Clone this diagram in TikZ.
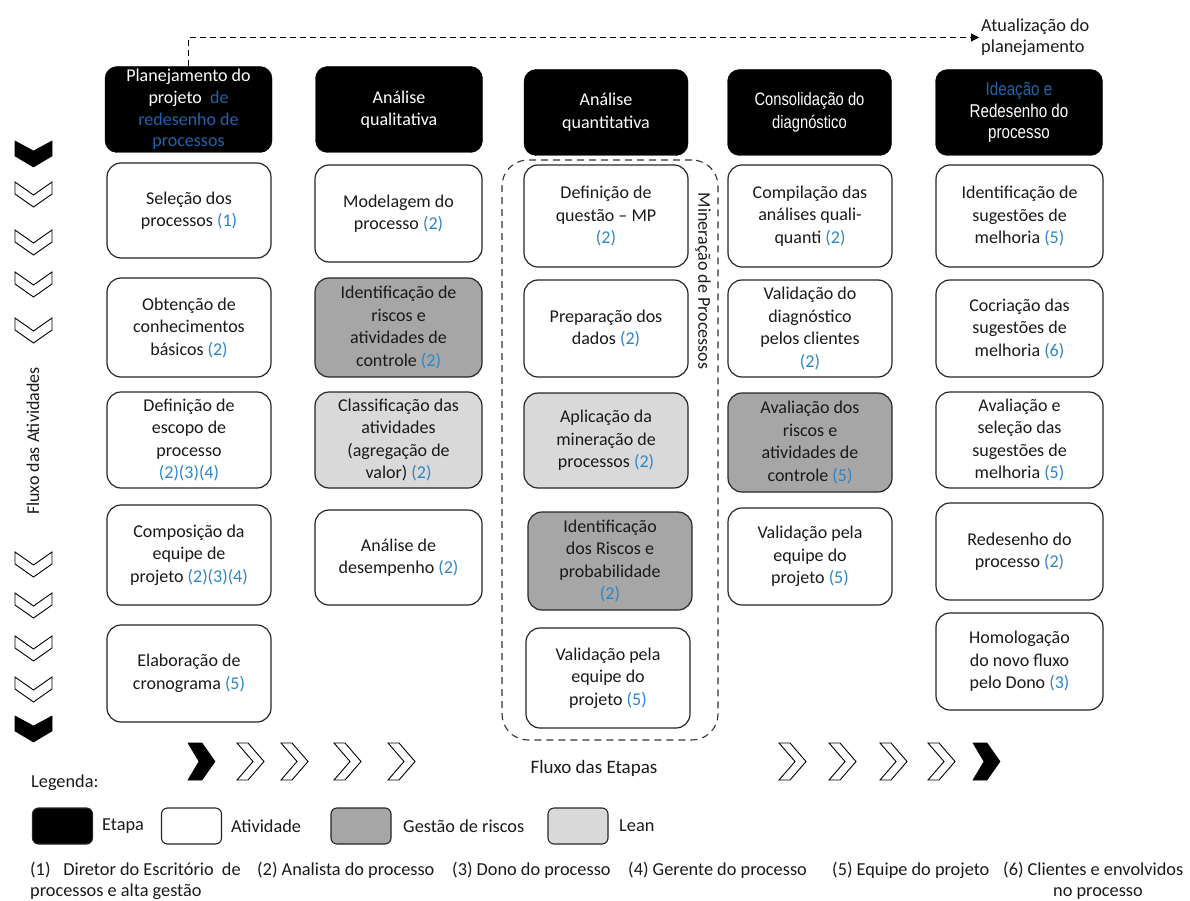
\documentclass[tikz,border=0pt]{standalone}
\usepackage{fontspec}
\setmainfont{Carlito}
\newfontfamily\narrowfont[FakeStretch=0.82]{Liberation Sans}
\usetikzlibrary{arrows.meta}
\definecolor{refblue}{HTML}{2E86C8}
\definecolor{hdrblue}{HTML}{1F64AA}
\definecolor{riskgray}{HTML}{A6A6A6}
\definecolor{leangray}{HTML}{D9D9D9}
\definecolor{txt}{HTML}{1A1A1A}
\newcommand{\rf}[1]{\textcolor{refblue}{(#1)}}
\newcommand{\hb}[1]{\textcolor{hdrblue}{#1}}

\begin{document}
\begin{tikzpicture}[x=1pt,y=-1pt,
  etapa/.style={rectangle, rounded corners=12pt, fill=black, draw=black, text=white,
    align=center, inner sep=1pt, font=\fontsize{18}{21.7}\selectfont},
  ativ/.style={rectangle, rounded corners=14pt, draw=black!85, line width=1.2pt, fill=white,
    text=txt, align=center, inner sep=1pt, font=\fontsize{18}{22.5}\selectfont},
  risco/.style={ativ, fill=riskgray},
  lean/.style={ativ, fill=leangray},
  w1/.style={minimum width=164pt}, w2/.style={minimum width=167pt},
  mpbox/.style={rectangle, draw=black!80, line width=1.1pt, dash pattern=on 7pt off 5pt,
    rounded corners=26pt},
  flowlabel/.style={font=\fontsize{18}{21}\selectfont, text=txt, inner sep=0pt},
  legtext/.style={font=\fontsize{18.3}{22}\selectfont, text=txt, anchor=west, inner sep=0pt},
  foot/.style={font=\fontsize{18.3}{22}\selectfont, text=txt, anchor=base west, inner sep=0pt},
  chevw/.style={draw=black, line width=0.9pt, fill=white, line join=miter},
  chevb/.style={fill=black, draw=black, line width=0.6pt},
  legbox/.style={rectangle, rounded corners=6pt, draw=black!85, line width=1.1pt,
    minimum width=60pt, minimum height=36pt},
]
\useasboundingbox (0,0) rectangle (1190,901);

% ---- stage headers ----
\node[etapa, w2, minimum height=86pt] (h1) at (188.5,109.5)
  {Planejamento do\\projeto\ \ \hb{de}\\\hb{redesenho de}\\\hb{processos}};
\node[etapa, w2, minimum height=86pt, font=\fontsize{18}{22}\selectfont] (h2) at (399,109.5) {Análise\\qualitativa};
\node[etapa, w1, minimum height=86pt, font=\fontsize{18}{23}\selectfont] (h3) at (606,112.5) {Análise\\quantitativa};
\node[etapa, w1, minimum height=86pt, font=\narrowfont\fontsize{18}{23}\selectfont] (h4)
  at (809.5,112.5) {Consolidação do\\diagnóstico};
\node[etapa, w2, minimum height=86pt, font=\narrowfont\fontsize{18.5}{21.5}\selectfont] (h5)
  at (1019,112.5) {\hb{Ideação e}\\Redesenho do\\processo};

% ---- feedback loop ----
\node[font=\fontsize{18.3}{21}\selectfont, text=txt, align=left, anchor=west, inner sep=2pt]
  (upd) at (979,37.5) {Atualização do\\planejamento};
\draw[line width=1.1pt, dash pattern=on 6pt off 4pt, -{Triangle[length=8pt,width=8pt]}]
  (h1.north) |- (upd.west);

% ---- column 1 ----
\node[ativ, w1, minimum height=95pt]  (a11) at (189,210.5) {Seleção dos\\processos \rf{1}};
\node[ativ, w1, minimum height=99pt]  (a12) at (189,327.5) {Obtenção de\\conhecimentos\\básicos \rf{2}};
\node[ativ, w1, minimum height=96pt]  (a13) at (189,440) {Definição de\\escopo de\\processo\\\rf{2}\rf{3}\rf{4}};
\node[ativ, w1, minimum height=100pt] (a14) at (189,555) {Composição da\\equipe de\\projeto \rf{2}\rf{3}\rf{4}};
\node[ativ, w1, minimum height=97pt]  (a15) at (189,673.5) {Elaboração de\\cronograma \rf{5}};

% ---- column 2 ----
\node[ativ, w2, minimum height=97pt]  (a21) at (398.5,213.5) {Modelagem do\\processo \rf{2}};
\node[risco, w2, minimum height=99pt] (a22) at (398.5,327.5) {Identificação de\\riscos e\\atividades de\\controle \rf{2}};
\node[lean, w2, minimum height=96pt]  (a23) at (398.5,440) {Classificação das\\atividades\\(agregação de\\valor) \rf{2}};
\node[ativ, w2, minimum height=95pt]  (a24) at (398.5,557.5) {Análise de\\desempenho \rf{2}};

% ---- column 3: process mining group ----
\node[mpbox, minimum width=216pt, minimum height=580pt] (mp) at (610,450) {};
\node[flowlabel, rotate=-90] (mplabel) at (703,281) {Mineração de Processos};
\node[ativ, w1, minimum height=102pt] (a31) at (606,216) {Definição de\\questão – MP\\\rf{2}};
\node[ativ, w1, minimum height=97pt]  (a32) at (606,328.5) {Preparação dos\\dados \rf{2}};
\node[lean, w1, minimum height=95pt]  (a33) at (606,440.5) {Aplicação da\\mineração de\\processos \rf{2}};
\node[risco, w1, minimum height=98pt] (a34) at (610,561) {Identificação\\dos Riscos e\\probabilidade\\\rf{2}};
\node[ativ, w1, minimum height=100pt] (a35) at (608,678) {Validação pela\\equipe do\\projeto \rf{5}};

% ---- column 4 ----
\node[ativ, w1, minimum height=102pt] (a41) at (810,216) {Compilação das\\análises quali-\\quanti \rf{2}};
\node[ativ, w1, minimum height=97pt]  (a42) at (810,328.5) {Validação do\\diagnóstico\\pelos clientes\\\rf{2}};
\node[risco, w1, minimum height=99pt] (a43) at (810,442.5) {Avaliação dos\\riscos e\\atividades de\\controle \rf{5}};
\node[ativ, w1, minimum height=97pt]  (a44) at (810,556.5) {Validação pela\\equipe do\\projeto \rf{5}};

% ---- column 5 ----
\node[ativ, w2, minimum height=102pt] (a51) at (1019.5,216) {Identificação de\\sugestões de\\melhoria \rf{5}};
\node[ativ, w2, minimum height=97pt]  (a52) at (1019.5,328.5) {Cocriação das\\sugestões de\\melhoria \rf{6}};
\node[ativ, w2, minimum height=96pt]  (a53) at (1019.5,440) {Avaliação e\\seleção das\\sugestões de\\melhoria \rf{5}};
\node[ativ, w2, minimum height=97pt]  (a54) at (1019.5,551.5) {Redesenho do\\processo \rf{2}};
\node[ativ, w2, minimum height=97pt]  (a55) at (1019.5,661.5) {Homologação\\do novo fluxo\\pelo Dono \rf{3}};

% ---- vertical flow (downward chevrons) ----
\node[flowlabel, rotate=90] (vflow) at (33,441) {Fluxo das Atividades};
\foreach \y in {141,716}
  \draw[chevb, shift={(15,\y)}] (0,0) -- (18.5,10) -- (37,0) -- (37,15) -- (18.5,26) -- (0,15) -- cycle;
\foreach \y in {182,230,272,318,552,593,636,677}
  \draw[chevw, shift={(15,\y)}] (0,0) -- (18.5,13) -- (37,0) -- (37,12) -- (18.5,25) -- (0,12) -- cycle;

% ---- horizontal flow (rightward chevrons) ----
\node[flowlabel, font=\fontsize{19}{21}\selectfont] (hflow) at (594,768) {Fluxo das Etapas};
\foreach \x in {188,973}
  \draw[chevb, shift={(\x,743)}] (0,0) -- (14,0) -- (27,18.5) -- (14,37) -- (0,37) -- (11,18.5) -- cycle;
\foreach \x in {237,281,334,388,779,829,880,928}
  \draw[chevw, shift={(\x,743)}] (0,0) -- (11,0) -- (27,18.5) -- (11,37) -- (0,37) -- (16,18.5) -- cycle;

% ---- legend ----
\node[legtext] (leg) at (31,783) {Legenda:};
\node[legbox, fill=black] (lg1) at (62.5,826) {};
\node[legtext] (lt1) at (102,826) {Etapa};
\node[legbox, fill=white] (lg2) at (191.5,826) {};
\node[legtext] (lt2) at (231,826) {Atividade};
\node[legbox, fill=riskgray] (lg3) at (361,826) {};
\node[legtext] (lt3) at (403,826) {Gestão de riscos};
\node[legbox, fill=leangray] (lg4) at (578,826) {};
\node[legtext] (lt4) at (619,826) {Lean};

% ---- role notes ----
\node[foot] (f1)  at (30,875) {(1)\hspace{0.7em}Diretor do Escritório\ \ de};
\node[foot] (f1b) at (30,896) {processos e alta gestão};
\node[foot] (f2)  at (257,875) {(2) Analista do processo};
\node[foot] (f3)  at (452,875) {(3) Dono do processo};
\node[foot] (f4)  at (628,875) {(4) Gerente do processo};
\node[foot] (f5)  at (832,875) {(5) Equipe do projeto};
\node[foot] (f6)  at (1003,875) {(6) Clientes e envolvidos};
\node[foot] (f6b) at (1053,896) {no processo};
\end{tikzpicture}
\end{document}
